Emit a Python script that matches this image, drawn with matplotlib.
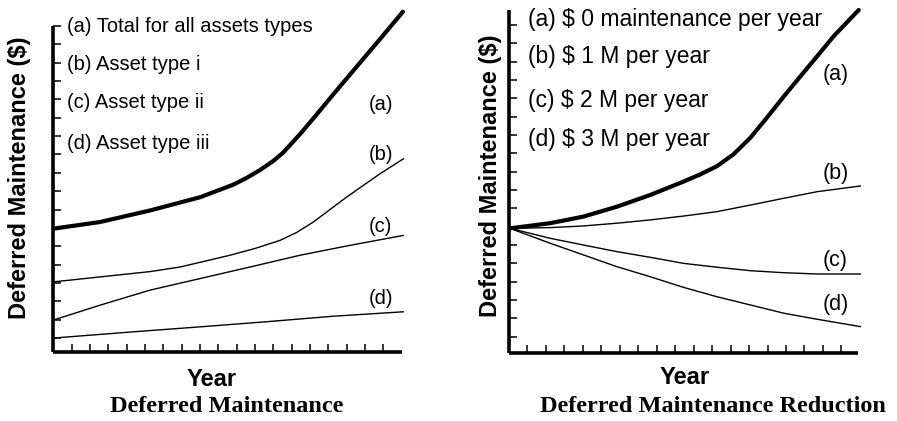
import numpy as np
import matplotlib.pyplot as plt

# ---- left panel: Deferred Maintenance ----
left_a_x = [0, 2.54, 5.27, 8.0, 9.8, 10.5, 11.27, 12.0, 12.53, 13.45, 14.38, 15.25, 16.18, 17.11, 18.0, 19.07]
left_a_y = [5.96, 6.32, 6.95, 7.67, 8.35, 8.7, 9.15, 9.65, 10.1, 11.1, 12.2, 13.25, 14.35, 15.45, 16.5, 17.78]
left_b_x = [0, 2.54, 5.27, 6.91, 9.63, 11.0, 12.36, 13.27, 14.18, 16.0, 17.82, 19.09]
left_b_y = [3.06, 3.33, 3.62, 3.87, 4.51, 4.88, 5.32, 5.75, 6.32, 7.68, 8.95, 9.76]
left_c_x = [0, 2.54, 5.27, 8.0, 10.73, 13.45, 16.18, 19.09]
left_c_y = [0.98, 1.79, 2.61, 3.24, 3.87, 4.51, 5.05, 5.59]
left_d_x = [0, 4.36, 8.0, 11.64, 15.27, 19.09]
left_d_y = [0, 0.34, 0.61, 0.89, 1.19, 1.43]
left_legend = ['(a) Total for all assets types', '(b) Asset type i',
               '(c) Asset type ii', '(d) Asset type iii']
left_legend_y = [17.0, 14.92, 12.84, 10.58]
left_tags_y = [12.75, 10.0, 6.05, 2.16]

# ---- right panel: Deferred Maintenance Reduction ----
right_a_x = [0.05, 2.22, 4.03, 5.84, 7.65, 9.45, 10.35, 11.26, 12.16, 13.07, 13.97, 14.88, 15.78, 16.69, 17.59, 18.94]
right_a_y = [5.91, 6.19, 6.55, 7.09, 7.73, 8.46, 8.85, 9.3, 9.95, 10.85, 11.95, 13.1, 14.2, 15.3, 16.4, 17.82]
right_bcd_x = [0.05, 2.22, 4.03, 5.84, 7.65, 9.45, 11.26, 13.07, 14.88, 16.69, 19.03]
right_b_y = [5.91, 5.95, 6.04, 6.19, 6.37, 6.58, 6.82, 7.18, 7.55, 7.91, 8.22]
right_c_y = [5.91, 5.37, 5.0, 4.64, 4.33, 4.0, 3.79, 3.60, 3.49, 3.42, 3.42]
right_d_y = [5.91, 5.10, 4.46, 3.82, 3.27, 2.69, 2.18, 1.73, 1.28, 0.95, 0.55]
right_legend = ['(a) \\$ 0 maintenance per year', '(b) \\$ 1 M per year',
                '(c) \\$ 2 M per year', '(d) \\$ 3 M per year']
right_legend_y = [17.28, 15.28, 12.91, 10.73]
right_tags_y = [14.28, 8.91, 4.18, 1.73]

tags = ['(a)', '(b)', '(c)', '(d)']

W, H = 897, 421
fig = plt.figure(figsize=(8.97, 4.21), dpi=100)
ax1 = fig.add_axes([53.4/W, 1-352/H, (402-53.4)/W, (352-26)/H])
ax2 = fig.add_axes([509/W, 1-353/H, (858-509)/W, (353-10)/H])


def style(ax, ylo, yhi, xhi):
    ax.set_xlim(0, xhi)
    ax.set_ylim(ylo, yhi)
    for s in ['top', 'right']:
        ax.spines[s].set_visible(False)
    for s in ['left', 'bottom']:
        ax.spines[s].set_linewidth(2.6)
        ax.spines[s].set_capstyle('butt')
    ax.set_xticks(np.arange(1, 19))
    ax.set_yticks(np.arange(0, 18))
    ax.tick_params(direction='in', length=5.5, width=1.1, labelleft=False, labelbottom=False)


style(ax1, -0.76, 17.0, 19.02)
style(ax2, -0.89, 17.82, 18.9)

# left curves
ax1.plot(left_a_x, left_a_y, color='black', lw=3.0, solid_capstyle='round', clip_on=False)
ax1.plot(left_b_x, left_b_y, color='black', lw=1.0, clip_on=False)
ax1.plot(left_c_x, left_c_y, color='black', lw=1.0, clip_on=False)
ax1.plot(left_d_x, left_d_y, color='black', lw=1.0, clip_on=False)
for txt, yy in zip(left_legend, left_legend_y):
    ax1.text(0.73, yy, txt, fontsize=14.5, va='center', ha='left', family='Liberation Sans')
for txt, yy in zip(tags, left_tags_y):
    ax1.text(17.87, yy, txt, fontsize=14.5, va='center', ha='center', family='Liberation Sans')

# right curves
ax2.plot(right_a_x, right_a_y, color='black', lw=3.0, solid_capstyle='round', clip_on=False)
ax2.plot(right_bcd_x, right_b_y, color='black', lw=1.0, clip_on=False)
ax2.plot(right_bcd_x, right_c_y, color='black', lw=1.0, clip_on=False)
ax2.plot(right_bcd_x, right_d_y, color='black', lw=1.0, clip_on=False)
for txt, yy in zip(right_legend, right_legend_y):
    ax2.text(1.05, yy, txt, fontsize=16.5, va='center', ha='left', family='Liberation Sans')
for txt, yy in zip(tags, right_tags_y):
    ax2.text(17.68, yy, txt, fontsize=15.5, va='center', ha='center', family='Liberation Sans')

# axis labels and titles
for xc, yc in [(20, 178), (490, 176)]:
    fig.text(xc/W, 1-yc/H, 'Deferred Maintenance (\\$)', rotation=90, fontsize=17,
             fontweight='bold', family='Liberation Sans', ha='center', va='center')
for xc, yc in [(212, 380), (685, 377)]:
    fig.text(xc/W, 1-yc/H, 'Year', fontsize=17, fontweight='bold',
             family='Liberation Sans', ha='center', va='center')
fig.text(227/W, 1-407/H, 'Deferred Maintenance', fontsize=17.5, fontweight='bold',
         family='Liberation Serif', ha='center', va='center')
fig.text(713/W, 1-407/H, 'Deferred Maintenance Reduction', fontsize=17.5, fontweight='bold',
         family='Liberation Serif', ha='center', va='center')

fig.savefig('out.png', dpi=100)
